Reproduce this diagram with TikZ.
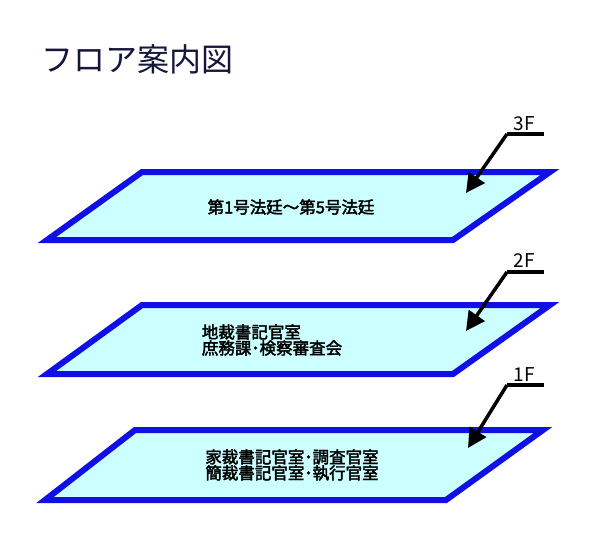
\documentclass[tikz,border=0pt]{standalone}
\usepackage{fontspec}
\setmainfont{Noto Sans CJK JP}
\newfontfamily\roomfont{Noto Sans CJK JP}[FakeBold=2.5]
\usetikzlibrary{arrows.meta}
\definecolor{floorblue}{RGB}{16,16,230}
\definecolor{floorcyan}{RGB}{204,255,255}
\definecolor{titlenavy}{RGB}{22,22,60}

\begin{document}
\begin{tikzpicture}[x=1pt,y=-1pt, line join=miter,
	font=\roomfont\fontsize{16.5}{16}\selectfont,
	plate/.style={draw=floorblue, fill=floorcyan, line width=6pt},
	leader/.style={line width=3.5pt, black},
	pointer/.style={line width=3.5pt, black, -{Triangle[length=19pt,width=19pt]}},
	flabel/.style={font=\normalfont\fontsize{19}{19}\selectfont, anchor=base, inner sep=0pt}]
	\useasboundingbox (0,0) rectangle (600,549);
	
	% [Title]
	\node[anchor=base west, inner sep=0pt, text=titlenavy, font=\normalfont\fontsize{32}{32}\selectfont] (title) at (41,71) {フロア案内図};
	
	% [3F]
	\draw[plate] (142,172) -- (550,172) -- (453,240) -- (47,240) -- cycle;
	\node (room3) at (291,207) {第1号法廷～第5号法廷};
	\node[flabel] (f3) at (524,130) {3F};
	\coordinate (k3) at (507,134); \coordinate (e3) at (544,134); \coordinate (p3) at (466,193);
	\draw[leader] (k3) -- (e3);
	\draw[pointer] (k3) -- (p3);
	
	% [2F]
	\draw[plate] (142,305) -- (550,305) -- (453,374) -- (47,374) -- cycle;
	\node[align=left] (room2) at (272,340) {地裁書記官室\\庶務課･検察審査会};
	\node[flabel] (f2) at (524,267) {2F};
	\coordinate (k2) at (507,272); \coordinate (e2) at (544,272); \coordinate (p2) at (466,331);
	\draw[leader] (k2) -- (e2);
	\draw[pointer] (k2) -- (p2);
	
	% [1F]
	\draw[plate] (135,430) -- (543,430) -- (446,500) -- (45,500) -- cycle;
	\node[align=left] (room1) at (292,465) {家裁書記官室･調査官室\\簡裁書記官室･執行官室};
	\node[flabel] (f1) at (524,381) {1F};
	\coordinate (k1) at (507,385); \coordinate (e1) at (544,385); \coordinate (p1) at (468,448);
	\draw[leader] (k1) -- (e1);
	\draw[pointer] (k1) -- (p1);
\end{tikzpicture}
\end{document}
